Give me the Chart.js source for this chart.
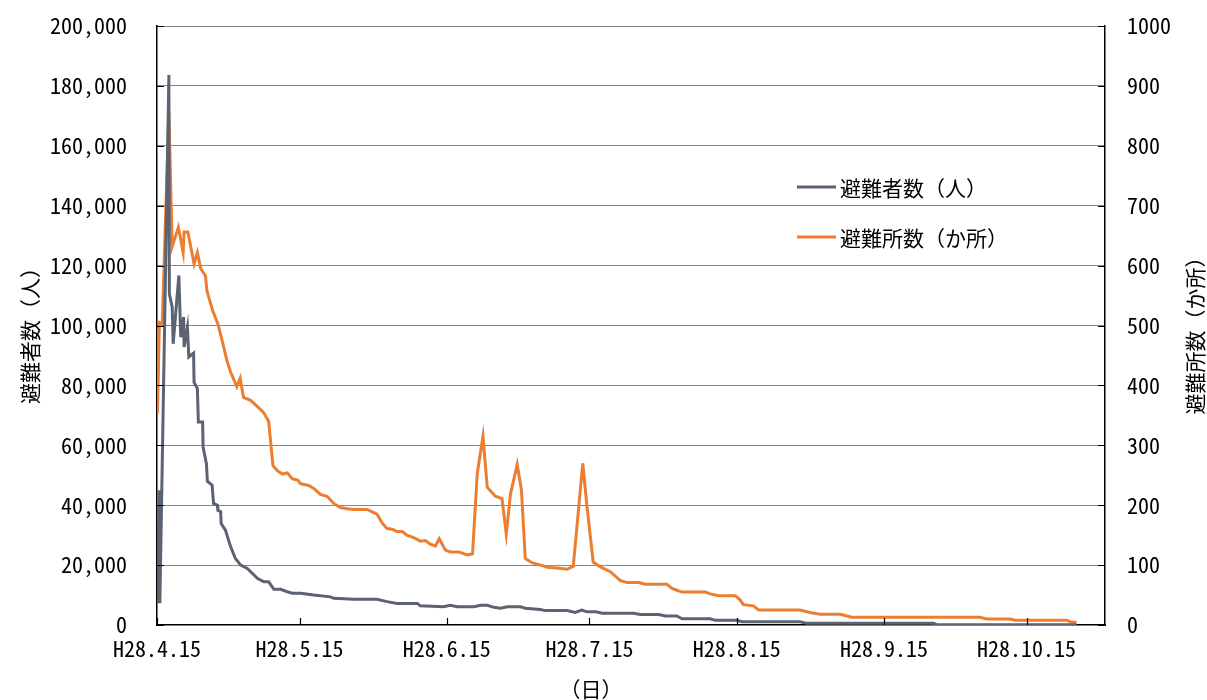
<!DOCTYPE html>
<html lang="ja">
<head>
  <meta charset="UTF-8" />
  <title>避難者数・避難所数の推移</title>
  <script src="https://cdn.jsdelivr.net/npm/chart.js"></script>
  <style>
    body { margin: 0; background: #ffffff; }
    .wrap { width: 1207px; height: 700px; }
  </style>
</head>
<body>
  <div class="wrap"><canvas id="chart" width="1207" height="700"></canvas></div>
  <script>
    // 経過日数 (H28.4.15 = 0)
    const tickDays = [0, 30, 61, 91, 122, 153, 183];
    const tickLabels = ['H28.4.15', 'H28.5.15', 'H28.6.15', 'H28.7.15', 'H28.8.15', 'H28.9.15', 'H28.10.15'];

    // 避難者数（人）
    const evacueeDays = [0.2, 0.4, 0.6, 2.5, 2.6, 3.2, 3.4, 4.6, 5.0, 5.6, 5.7, 6.4, 6.7, 7.7, 7.8, 8.5, 8.7, 9.6, 9.7,
      10.4, 10.6, 11.6, 11.9, 12.7, 12.8, 13.4, 13.5, 14.4, 15.5, 16.5, 17.6, 19.0, 20.1, 21.1, 22.5, 23.5, 24.6, 26.0,
      27.4, 28.5, 30.2, 33.0, 36.5, 37.2, 41.4, 46.3, 48.4, 50.5, 54.8, 55.4, 60.3, 61.7, 63.2, 66.7, 68.1, 69.5, 70.9,
      72.3, 73.7, 76.5, 77.5, 80.7, 81.7, 86.3, 88.0, 89.4, 90.5, 92.3, 93.7, 100.3, 101.7, 105.6, 107.0, 109.4, 110.5,
      116.4, 117.5, 122.0, 123.1, 135.3, 136.8, 163.4, 164.1, 193.5];
    const evacuees = [7300, 45000, 7300, 183600, 110600, 106100, 93900, 116700, 96100, 102800, 92800, 99400, 89500, 90800,
      81000, 78900, 67800, 67800, 59400, 53900, 48000, 46700, 40600, 40000, 38300, 37800, 33900, 31700, 26100, 22200,
      20000, 18900, 17200, 15600, 14400, 14400, 11900, 11900, 11100, 10600, 10600, 10000, 9400, 8900, 8600, 8600, 7800,
      7200, 7200, 6400, 6100, 6600, 6100, 6100, 6600, 6600, 5900, 5600, 6100, 6100, 5600, 5200, 4800, 4800, 4200, 5000,
      4400, 4400, 3900, 3900, 3500, 3500, 3000, 3000, 2100, 2100, 1550, 1550, 1100, 1100, 550, 550, 100, 100];

    // 避難所数（か所）
    const shelterDays = [0.1, 0.5, 1.1, 2.5, 3.2, 4.5, 5.5, 5.7, 6.5, 7.8, 8.5, 9.2, 10.2, 10.5, 11.7, 12.8, 13.8, 14.7,
      15.5, 16.8, 17.5, 18.2, 19.7, 21.2, 22.4, 23.5, 24.4, 25.4, 26.4, 27.4, 28.5, 29.6, 30.2, 31.9, 33.0, 34.4, 35.8,
      37.2, 38.6, 40.0, 41.4, 44.2, 45.3, 46.3, 47.4, 48.4, 49.5, 50.5, 51.6, 52.6, 54.0, 55.4, 56.5, 57.5, 58.6, 59.4,
      60.7, 61.7, 63.5, 65.3, 66.4, 67.4, 68.6, 69.5, 71.2, 72.6, 73.5, 74.4, 75.8, 76.7, 77.5, 78.9, 80.7, 82.4, 84.2,
      86.3, 87.6, 88.5, 89.6, 90.5, 91.8, 93.3, 95.4, 97.5, 98.9, 101.3, 102.8, 107.3, 108.4, 109.4, 110.5, 115.4, 116.4,
      118.2, 121.7, 122.7, 123.4, 125.5, 126.6, 135.3, 137.4, 139.6, 143.8, 146.2, 173.2, 174.6, 179.5, 180.6, 191.4,
      192.5, 193.5];
    const shelters = [353, 505, 503, 855, 632, 664, 622, 656, 656, 603, 622, 595, 583, 558, 525, 503, 472, 442,
      422, 398, 412, 380, 375, 364, 355, 340, 266, 257, 252, 254, 244, 242, 236, 233, 228, 218, 215,
      203, 196, 194, 193, 193, 189, 185, 170, 161, 160, 156, 156, 150, 146, 140, 141, 135, 132, 144,
      125, 122, 122, 117, 119, 253, 315, 230, 215, 211, 152, 219, 268, 225, 111, 104, 100, 96, 95,
      93, 98, 175, 270, 197, 105, 97, 89, 74, 71, 71, 68, 68, 61, 58, 55, 55, 52,
      49, 49, 42, 34, 32, 25, 25, 21, 18, 18, 13, 13, 10, 10, 8, 8,
      4.5, 4.5];

    const GRAY = '#5b6372';
    const ORANGE = '#ED7D31';
    const FONT = "'Noto Sans Mono CJK JP', 'Noto Sans CJK JP', sans-serif";

    const toPoints = (xs, ys) => xs.map((d, i) => ({ x: d, y: ys[i] }));

    // 内向きの目盛り線・軸タイトル・凡例
    const decor = {
      id: 'decor',
      afterDraw(chart) {
        const { ctx, chartArea: a, scales } = chart;
        ctx.save();
        ctx.strokeStyle = '#000';
        ctx.lineWidth = 1.2;
        ctx.beginPath();
        scales.y.ticks.forEach(t => {
          const py = Math.round(scales.y.getPixelForValue(t.value)) + 0.5;
          ctx.moveTo(a.left, py); ctx.lineTo(a.left + 7, py);
        });
        scales.y2.ticks.forEach(t => {
          const py = Math.round(scales.y2.getPixelForValue(t.value)) + 0.5;
          ctx.moveTo(a.right - 7, py); ctx.lineTo(a.right, py);
        });
        scales.x.ticks.forEach(t => {
          const px = Math.round(scales.x.getPixelForValue(t.value)) + 0.5;
          ctx.moveTo(px, a.bottom - 7); ctx.lineTo(px, a.bottom);
        });
        ctx.stroke();

        ctx.fillStyle = '#000';
        ctx.font = '21px ' + FONT;
        ctx.textAlign = 'center';
        ctx.textBaseline = 'middle';
        const midY = (a.top + a.bottom) / 2;
        ctx.save(); ctx.translate(30, midY + 5); ctx.rotate(-Math.PI / 2);
        ctx.fillText('避難者数（人）', 0, 0); ctx.restore();
        ctx.save(); ctx.translate(1195, midY + 5); ctx.rotate(-Math.PI / 2);
        ctx.fillText('避難所数（か所）', 0, 0); ctx.restore();
        ctx.fillText('（日）', 591, 689);

        // 凡例
        ctx.textAlign = 'left';
        chart.data.datasets.forEach((ds, i) => {
          const y = 187 + i * 50;
          ctx.strokeStyle = ds.borderColor;
          ctx.lineWidth = 3;
          ctx.beginPath(); ctx.moveTo(797, y); ctx.lineTo(836, y); ctx.stroke();
          ctx.fillStyle = '#000';
          ctx.fillText(ds.label, 840, y + 1);
        });
        ctx.restore();
      }
    };

    const noVPad = s => { s.paddingTop = 0; s.paddingBottom = 0; };

    new Chart(document.getElementById('chart'), {
      type: 'line',
      data: {
        datasets: [
          { label: '避難者数（人）', data: toPoints(evacueeDays, evacuees), yAxisID: 'y',
            borderColor: GRAY, borderWidth: 3, pointRadius: 0, tension: 0 },
          { label: '避難所数（か所）', data: toPoints(shelterDays, shelters), yAxisID: 'y2',
            borderColor: ORANGE, borderWidth: 3, pointRadius: 0, tension: 0 }
        ]
      },
      options: {
        responsive: false,
        animation: false,
        layout: { padding: { top: 26, left: 0, right: 0, bottom: 0 } },
        plugins: { legend: { display: false }, tooltip: { enabled: false } },
        scales: {
          x: {
            type: 'linear', min: 0, max: 199.5,
            afterBuildTicks: s => { s.ticks = tickDays.map(v => ({ value: v })); },
            afterFit: s => { s.height = 75; },
            ticks: {
              autoSkip: false, maxRotation: 0, padding: 10, color: '#000',
              font: { family: FONT, size: 22 },
              callback: (v) => tickLabels[tickDays.indexOf(v)]
            },
            grid: { display: false, drawTicks: false },
            border: { display: true, color: '#000', width: 1.5 }
          },
          y: {
            position: 'left', min: 0, max: 200000,
            afterFit: s => { s.width = 157; noVPad(s); },
            ticks: {
              stepSize: 20000, padding: 30, color: '#000',
              font: { family: FONT, size: 22 },
              callback: v => v.toLocaleString('en-US')
            },
            grid: {
              drawTicks: false, color: ctx => ctx.tick.value === 0 ? 'rgba(0,0,0,0)' : '#111',
              lineWidth: 1
            },
            border: { display: true, color: '#000', width: 1.5, dash: [1, 1] }
          },
          y2: {
            position: 'right', min: 0, max: 1000,
            afterFit: s => { s.width = 102; noVPad(s); },
            ticks: {
              stepSize: 100, padding: 22, color: '#000',
              font: { family: FONT, size: 22 },
              callback: v => String(v)
            },
            grid: { display: false, drawTicks: false },
            border: { display: true, color: '#000', width: 1.5 }
          }
        }
      },
      plugins: [decor]
    });
  </script>
</body>
</html>
